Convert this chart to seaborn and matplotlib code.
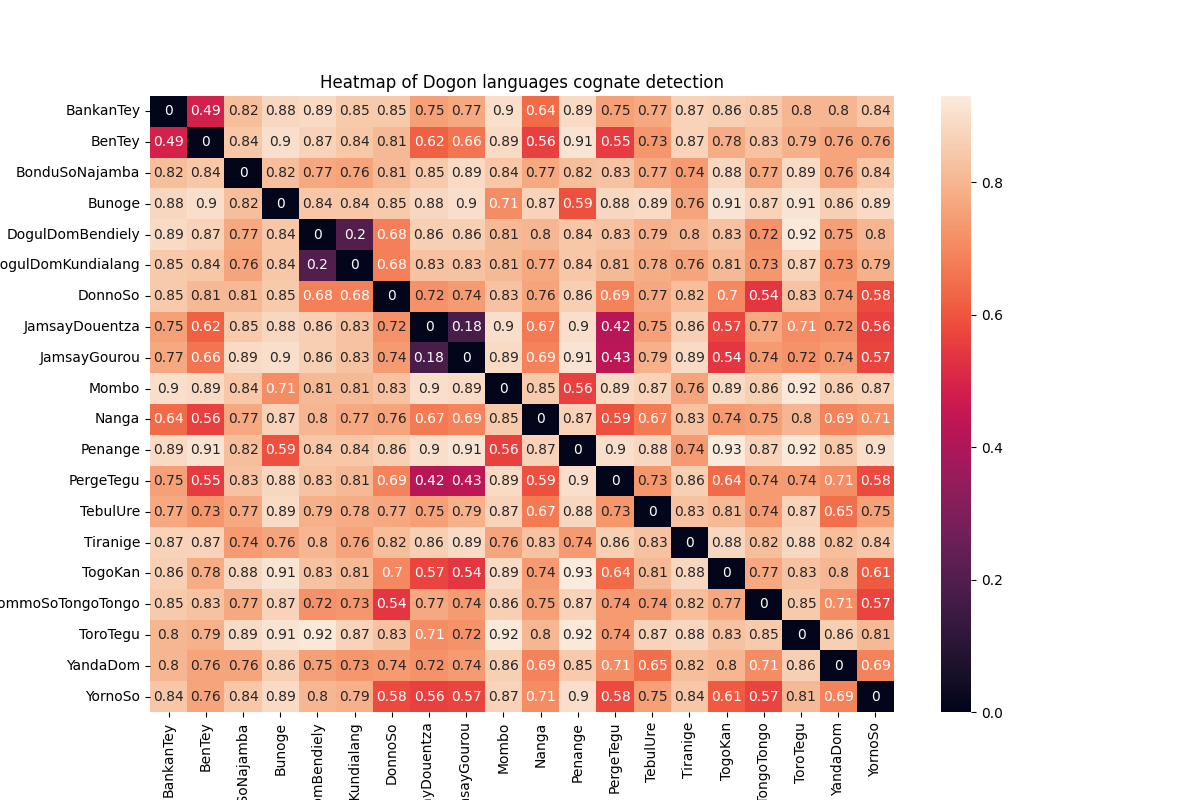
import numpy as np
import pandas as pd
import matplotlib
matplotlib.use("Agg")
import matplotlib.pyplot as plt
import seaborn as sns

languages = [
    "BankanTey", "BenTey", "BonduSoNajamba", "Bunoge", "DogulDomBendiely",
    "DogulDomKundialang", "DonnoSo", "JamsayDouentza", "JamsayGourou", "Mombo",
    "Nanga", "Penange", "PergeTegu", "TebulUre", "Tiranige",
    "TogoKan", "TommoSoTongoTongo", "ToroTegu", "YandaDom", "YornoSo",
]

distances = [
    [0, 0.49, 0.82, 0.88, 0.89, 0.85, 0.85, 0.75, 0.77, 0.9, 0.64, 0.89, 0.75, 0.77, 0.87, 0.86, 0.85, 0.8, 0.8, 0.84],
    [0.49, 0, 0.84, 0.9, 0.87, 0.84, 0.81, 0.62, 0.66, 0.89, 0.56, 0.91, 0.55, 0.73, 0.87, 0.78, 0.83, 0.79, 0.76, 0.76],
    [0.82, 0.84, 0, 0.82, 0.77, 0.76, 0.81, 0.85, 0.89, 0.84, 0.77, 0.82, 0.83, 0.77, 0.74, 0.88, 0.77, 0.89, 0.76, 0.84],
    [0.88, 0.9, 0.82, 0, 0.84, 0.84, 0.85, 0.88, 0.9, 0.71, 0.87, 0.59, 0.88, 0.89, 0.76, 0.91, 0.87, 0.91, 0.86, 0.89],
    [0.89, 0.87, 0.77, 0.84, 0, 0.2, 0.68, 0.86, 0.86, 0.81, 0.8, 0.84, 0.83, 0.79, 0.8, 0.83, 0.72, 0.92, 0.75, 0.8],
    [0.85, 0.84, 0.76, 0.84, 0.2, 0, 0.68, 0.83, 0.83, 0.81, 0.77, 0.84, 0.81, 0.78, 0.76, 0.81, 0.73, 0.87, 0.73, 0.79],
    [0.85, 0.81, 0.81, 0.85, 0.68, 0.68, 0, 0.72, 0.74, 0.83, 0.76, 0.86, 0.69, 0.77, 0.82, 0.7, 0.54, 0.83, 0.74, 0.58],
    [0.75, 0.62, 0.85, 0.88, 0.86, 0.83, 0.72, 0, 0.18, 0.9, 0.67, 0.9, 0.42, 0.75, 0.86, 0.57, 0.77, 0.71, 0.72, 0.56],
    [0.77, 0.66, 0.89, 0.9, 0.86, 0.83, 0.74, 0.18, 0, 0.89, 0.69, 0.91, 0.43, 0.79, 0.89, 0.54, 0.74, 0.72, 0.74, 0.57],
    [0.9, 0.89, 0.84, 0.71, 0.81, 0.81, 0.83, 0.9, 0.89, 0, 0.85, 0.56, 0.89, 0.87, 0.76, 0.89, 0.86, 0.92, 0.86, 0.87],
    [0.64, 0.56, 0.77, 0.87, 0.8, 0.77, 0.76, 0.67, 0.69, 0.85, 0, 0.87, 0.59, 0.67, 0.83, 0.74, 0.75, 0.8, 0.69, 0.71],
    [0.89, 0.91, 0.82, 0.59, 0.84, 0.84, 0.86, 0.9, 0.91, 0.56, 0.87, 0, 0.9, 0.88, 0.74, 0.93, 0.87, 0.92, 0.85, 0.9],
    [0.75, 0.55, 0.83, 0.88, 0.83, 0.81, 0.69, 0.42, 0.43, 0.89, 0.59, 0.9, 0, 0.73, 0.86, 0.64, 0.74, 0.74, 0.71, 0.58],
    [0.77, 0.73, 0.77, 0.89, 0.79, 0.78, 0.77, 0.75, 0.79, 0.87, 0.67, 0.88, 0.73, 0, 0.83, 0.81, 0.74, 0.87, 0.65, 0.75],
    [0.87, 0.87, 0.74, 0.76, 0.8, 0.76, 0.82, 0.86, 0.89, 0.76, 0.83, 0.74, 0.86, 0.83, 0, 0.88, 0.82, 0.88, 0.82, 0.84],
    [0.86, 0.78, 0.88, 0.91, 0.83, 0.81, 0.7, 0.57, 0.54, 0.89, 0.74, 0.93, 0.64, 0.81, 0.88, 0, 0.77, 0.83, 0.8, 0.61],
    [0.85, 0.83, 0.77, 0.87, 0.72, 0.73, 0.54, 0.77, 0.74, 0.86, 0.75, 0.87, 0.74, 0.74, 0.82, 0.77, 0, 0.85, 0.71, 0.57],
    [0.8, 0.79, 0.89, 0.91, 0.92, 0.87, 0.83, 0.71, 0.72, 0.92, 0.8, 0.92, 0.74, 0.87, 0.88, 0.83, 0.85, 0, 0.86, 0.81],
    [0.8, 0.76, 0.76, 0.86, 0.75, 0.73, 0.74, 0.72, 0.74, 0.86, 0.69, 0.85, 0.71, 0.65, 0.82, 0.8, 0.71, 0.86, 0, 0.69],
    [0.84, 0.76, 0.84, 0.89, 0.8, 0.79, 0.58, 0.56, 0.57, 0.87, 0.71, 0.9, 0.58, 0.75, 0.84, 0.61, 0.57, 0.81, 0.69, 0],
]

df = pd.DataFrame(np.array(distances), index=languages, columns=languages)

fig, ax = plt.subplots(figsize=(12, 8), dpi=100)
sns.heatmap(df, annot=True, ax=ax)
ax.set_title("Heatmap of Dogon languages cognate detection")

plt.savefig("out.png", dpi=100)
plt.close()
